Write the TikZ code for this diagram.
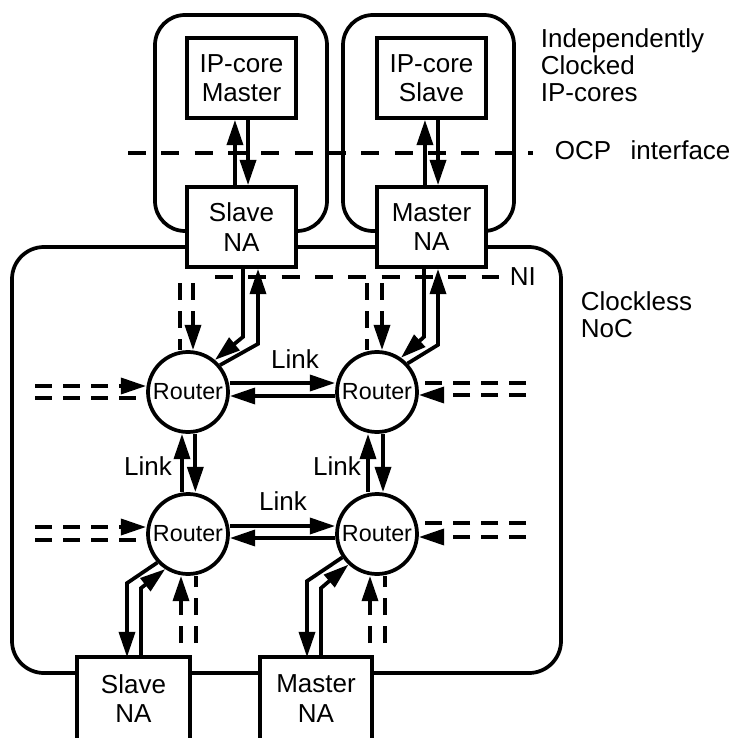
\documentclass[tikz,border=0pt]{standalone}
\usepackage{fontspec}
\setmainfont{Liberation Sans}
\usetikzlibrary{arrows.meta,calc}

\tikzset{
  nabox/.style={draw, fill=white, inner sep=0pt, minimum width=81.5pt,
    minimum height=60pt, align=center, font=\fontsize{19.5}{22}\selectfont},
  naopen/.style={fill=white, inner sep=0pt, minimum width=81.5pt,
    minimum height=59.25pt, align=center, font=\fontsize{19.5}{22}\selectfont},
  wrapbox/.style={draw, rounded corners=22.5pt, inner sep=0pt},
  router/.style={circle, draw, fill=white, inner sep=0pt, minimum size=60pt,
    font=\fontsize{17.5}{17.5}\selectfont},
  sidelabel/.style={inner sep=0pt, align=left, font=\fontsize{19.5}{20.25}\selectfont},
  linklabel/.style={inner sep=0pt, anchor=base, font=\fontsize{19.5}{20}\selectfont},
  tip/.style={-{Triangle[length=19pt,width=12pt]}},
  bigdash/.style={dash pattern=on 13.5pt off 11.5pt},
  smalldash/.style={dash pattern=on 13pt off 8pt},
}

\begin{document}
\begin{tikzpicture}[x=0.75pt, y=-0.75pt, line width=2.8pt, line join=miter]
\useasboundingbox (0,0) rectangle (732,738);

% free ends of the interface lines and of the open router ports
\coordinate (ocpL) at (128,153);  \coordinate (ocpR) at (533,153);
\coordinate (niL)  at (215,277);  \coordinate (niR)  at (499,277);
\coordinate (w11u) at (35,386);   \coordinate (w11d) at (35,398);
\coordinate (w21u) at (35,527);   \coordinate (w21d) at (35,540);
\coordinate (e12u) at (526,383);  \coordinate (e12d) at (526,395);
\coordinate (e22u) at (526,523);  \coordinate (e22d) at (526,537);
\coordinate (n11a) at (180,283);  \coordinate (n11b) at (193,283);
\coordinate (n12a) at (367,283);  \coordinate (n12b) at (382,283);
\coordinate (s21a) at (181,643);  \coordinate (s21b) at (196,643);
\coordinate (s22a) at (370,643);  \coordinate (s22b) at (385,643);

% OCP interface line
\draw[bigdash] (ocpL) -- (ocpR);

% clock domains of the IP-cores and the clockless network
\node[wrapbox, minimum width=129pt, minimum height=162pt] (coreL) at (241,123) {};
\node[wrapbox, minimum width=128.25pt, minimum height=162pt] (coreR) at (428.5,123) {};
\node[draw, rounded corners=24pt, inner sep=0pt, minimum width=411.75pt,
      minimum height=319.5pt] (noc) at (286.5,460) {};

% NI boundary
\draw[bigdash] (niL) -- (niR);

% IP-cores and network adapters
\node[nabox] (ipm) at (241.5,78) {IP-core\\Master};
\node[nabox] (ips) at (431.5,78) {IP-core\\Slave};
\node[nabox] (sna) at (241.5,227) {Slave\\NA};
\node[nabox] (mna) at (431.5,227) {Master\\NA};
\node[naopen] (bsna) at (133.5,698.5) {Slave\\NA};
\node[naopen] (bmna) at (316,698.5) {Master\\NA};
\draw (bsna.south west) -- (bsna.north west) -- (bsna.north east) -- (bsna.south east);
\draw (bmna.south west) -- (bmna.north west) -- (bmna.north east) -- (bmna.south east);

% routers
\node[router] (r11) at (188,392) {Router};
\node[router] (r12) at (377,392) {Router};
\node[router] (r21) at (188,534) {Router};
\node[router] (r22) at (377,534) {Router};

% IP-core <-> NA
\draw[tip] ([xshift=-4.9pt]sna.north) -- ([xshift=-4.9pt]ipm.south);
\draw[tip] ([xshift=4.9pt]ipm.south) -- ([xshift=4.9pt]sna.north);
\draw[tip] ([xshift=-4.9pt]mna.north) -- ([xshift=-4.9pt]ips.south);
\draw[tip] ([xshift=4.9pt]ips.south) -- ([xshift=4.9pt]mna.north);

% NA <-> router, upper row
\draw[tip] ($(sna.south)+(1.5,0)$) -- ($(sna.south)+(1.5,68)$) -- (r11.50);
\draw[tip] (r11.40) -- ($(sna.south)+(16.5,75)$) -- ($(sna.south)+(16.5,0)$);
\draw[tip] ($(mna.south)+(-7.5,0)$) -- ($(mna.south)+(-7.5,68)$) -- (r12.55);
\draw[tip] (r12.43) -- ($(mna.south)+(6.5,76)$) -- ($(mna.south)+(6.5,0)$);

% NA <-> router, lower row
\draw[tip] (r21.223) -- ($(bsna.north)+(-6.5,-74)$) -- ($(bsna.north)+(-6.5,0)$);
\draw[tip] ($(bsna.north)+(7.5,0)$) -- ($(bsna.north)+(7.5,-69)$) -- (r21.237);
\draw[tip] (r22.214) -- ($(bmna.north)+(-9,-76)$) -- ($(bmna.north)+(-9,0)$);
\draw[tip] ($(bmna.north)+(5,0)$) -- ($(bmna.north)+(5,-69)$) -- (r22.227);

% links between routers
\draw[tip] ([yshift=6.75pt]r11.east) -- ([yshift=6.75pt]r12.west);
\draw[tip] ([yshift=-3pt]r12.west) -- ([yshift=-3pt]r11.east);
\draw[tip] ([yshift=6pt]r21.east) -- ([yshift=6pt]r22.west);
\draw[tip] ([yshift=-3pt]r22.west) -- ([yshift=-3pt]r21.east);
\draw[tip] ([xshift=-4.5pt]r21.north) -- ([xshift=-4.5pt]r11.south);
\draw[tip] ([xshift=5.5pt]r11.south) -- ([xshift=5.5pt]r21.north);
\draw[tip] ([xshift=-6.75pt]r22.north) -- ([xshift=-6.75pt]r12.south);
\draw[tip] ([xshift=4.5pt]r12.south) -- ([xshift=4.5pt]r22.north);

% open ports towards neighbouring routers
\draw[smalldash, tip] (w11u) -- ([yshift=4.5pt]r11.west);
\draw[smalldash] (w11d) -- ([yshift=-4.5pt]r11.west);
\draw[smalldash, tip] (w21u) -- ([yshift=5.25pt]r21.west);
\draw[smalldash] (w21d) -- ([yshift=-4.5pt]r21.west);
\draw[smalldash] (e12u) -- ([yshift=6.75pt]r12.east);
\draw[smalldash, tip] (e12d) -- ([yshift=-2.25pt]r12.east);
\draw[smalldash] (e22u) -- ([yshift=8.25pt]r22.east);
\draw[smalldash, tip] (e22d) -- ([yshift=-2.25pt]r22.east);
\draw[smalldash] (n11a) -- ([xshift=-6pt]r11.north);
\draw[smalldash, tip] (n11b) -- ([xshift=3.75pt]r11.north);
\draw[smalldash] (n12a) -- ([xshift=-7.5pt]r12.north);
\draw[smalldash, tip] (n12b) -- ([xshift=3.75pt]r12.north);
\draw[smalldash, tip] (s21a) -- ([xshift=-5.25pt]r21.south);
\draw[smalldash] (s21b) -- ([xshift=6pt]r21.south);
\draw[smalldash, tip] (s22a) -- ([xshift=-5.25pt]r22.south);
\draw[smalldash] (s22b) -- ([xshift=6pt]r22.south);

% labels
\node[linklabel] (l1) at (295,368) {Link};
\node[linklabel] (l2) at (283,510) {Link};
\node[linklabel] (l3) at (148,475) {Link};
\node[linklabel] (l4) at (337,475) {Link};
\node[sidelabel, anchor=base west] (ni) at (508,285) {NI};
\node[sidelabel, anchor=base west] (ocp) at (553,160) {OCP\hspace{0.75em}interface};
\node[sidelabel, anchor=north west] (clk) at (539,27) {Independently\\Clocked\\IP-cores};
\node[sidelabel, anchor=north west] (cnoc) at (579,290) {Clockless\\NoC};
\end{tikzpicture}
\end{document}
